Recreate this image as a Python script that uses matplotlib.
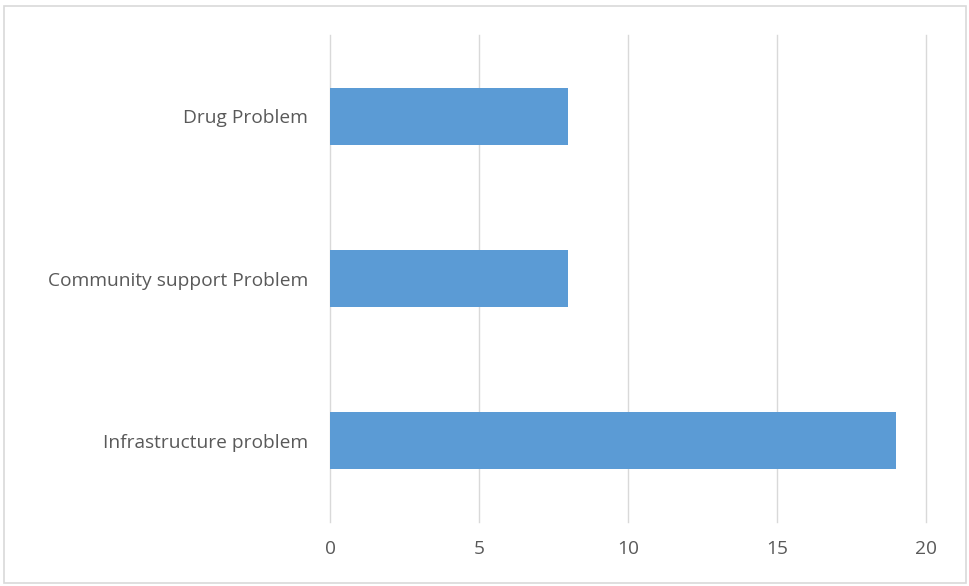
import matplotlib
matplotlib.use("Agg")
import matplotlib.pyplot as plt
from matplotlib.patches import Rectangle

categories = ["Infrastructure problem", "Community support Problem", "Drug Problem"]
values = [19, 8, 8]
x_ticks = [0, 5, 10, 15, 20]

plt.rcParams['font.family'] = ['Open Sans', 'DejaVu Sans']

fig = plt.figure(figsize=(9.70, 5.86), dpi=100)
W, H = 970, 586
ax = fig.add_axes([330 / W, 1 - 522 / H, (926 - 330) / W, (522 - 35) / H])

pos = list(range(len(categories)))
ax.barh(pos, values, height=0.35, color="#5B9BD5", zorder=3)
ax.set_ylim(-0.5, len(categories) - 0.5)
ax.set_xlim(0, 20)
ax.set_xticks(x_ticks)
ax.set_xticklabels([str(t) for t in x_ticks])
ax.set_yticks(pos)
ax.set_yticklabels(categories)

ax.grid(axis="x", color="#D9D9D9", linewidth=1.0, zorder=0)
for gl in ax.get_xgridlines():
    gl.set_clip_on(False)
for s in ax.spines.values():
    s.set_visible(False)
ax.tick_params(axis="both", length=0, labelsize=13.8, labelcolor="#595959")
ax.tick_params(axis="x", pad=13)
ax.tick_params(axis="y", pad=16)

# chart-area border
fig.patches.append(Rectangle((4 / W, 3 / H), 962 / W, 577 / H, transform=fig.transFigure,
                             fill=False, edgecolor="#D9D9D9", linewidth=1.2))

fig.savefig("out.png", dpi=100)
